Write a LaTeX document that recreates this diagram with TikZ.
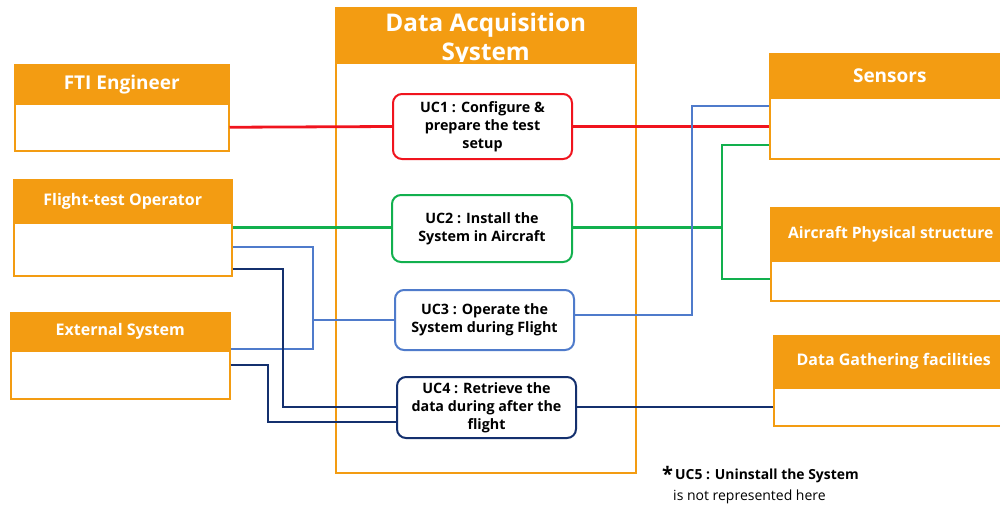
\documentclass[tikz,border=0pt]{standalone}
\usepackage{fontspec}
\setmainfont{Open Sans}
\definecolor{org}{HTML}{F39C12}
\definecolor{ucred}{HTML}{F0141E}
\definecolor{ucgreen}{HTML}{12B04E}
\definecolor{ucblue}{HTML}{4F7BCB}
\definecolor{ucnavy}{HTML}{14306E}
\tikzset{
  hdr/.style={draw=org, fill=org, line width=1.5pt, anchor=north west, inner sep=0pt,
    text=white, font=\bfseries\fontsize{16}{20}\selectfont, align=center},
  bighdr/.style={hdr, font=\bfseries\fontsize{19}{22}\selectfont},
  bodybox/.style={draw=org, fill=white, line width=1.5pt, anchor=north west, inner sep=0pt},
  ucbox/.style={draw=#1, fill=white, line width=2pt, rounded corners=9pt, anchor=north west,
    inner sep=0pt, align=center, text=black, font=\bfseries\fontsize{14.3}{18}\selectfont},
  link/.style={draw=#1, line width=2.5pt}
}
\begin{document}
\begin{tikzpicture}[x=1pt,y=-1pt]
\useasboundingbox (0,0) rectangle (1000,506);

% actors on the left
\node[bighdr, minimum width=214, minimum height=40] (fti) at (14,64) {FTI Engineer};
\node[bodybox, minimum width=214, minimum height=47] (ftib) at (14,103) {};
\node[hdr, minimum width=218, minimum height=43] (fto) at (13,179) {Flight-test Operator};
\node[bodybox, minimum width=218, minimum height=53] (ftob) at (13,222) {};
\node[hdr, minimum width=219, minimum height=38] (ext) at (10,312) {External System};
\node[bodybox, minimum width=219, minimum height=48] (extb) at (10,350) {};

% actors on the right
\node[bighdr, minimum width=240, minimum height=44] (sens) at (769,53) {Sensors};
\node[bodybox, minimum width=240, minimum height=61] (sensb) at (769,97) {};
\node[hdr, minimum width=240, minimum height=53, font=\bfseries\fontsize{15.7}{20}\selectfont]
  (acs) at (770,207) {Aircraft Physical structure};
\node[bodybox, minimum width=240, minimum height=40] (acsb) at (770,260) {};
\node[hdr, minimum width=240, minimum height=52] (dgf) at (773,335) {Data Gathering facilities};
\node[bodybox, minimum width=240, minimum height=38] (dgfb) at (773,387) {};

% system boundary: the body is drawn over the lower edge of the title block
\node[hdr, minimum width=300, minimum height=59, font=\bfseries\fontsize{24.3}{29}\selectfont,
  text depth=0pt] (das) at (335,7) {Data Acquisition\\[0pt]System};
\node[bodybox, minimum width=300, minimum height=410] (dasb) at (335,62) {};

% associations
\draw[link=ucred, line width=2.8pt] (ftib.east) -- (392,126.5) coordinate (r1);
\draw[link=ucred, line width=2.8pt] (571,126.5) coordinate (r2) -- (sensb.west |- r2);

\draw[link=ucgreen] (ftob.east |- 0,227.5) -- (391,227.5) coordinate (g1);
\draw[link=ucgreen] (571,227.5) -- (722,227.5) coordinate (gj);
\draw[link=ucgreen] (gj) |- (sensb.west |- 0,145);
\draw[link=ucgreen] (gj) |- (acsb.west |- 0,279);

\draw[link=ucblue] (ftob.east |- 0,247) -| (313,320) coordinate (bj);
\draw[link=ucblue] (extb.east |- 0,349) -| (bj);
\draw[link=ucblue] (bj) -- (394,320);
\draw[link=ucblue] (573,315) -- (692,315) |- (sensb.west |- 0,106);

\draw[link=ucnavy] (ftob.east |- 0,269) -| (283,407) -- (396,407);
\draw[link=ucnavy] (extb.east |- 0,365) -| (268,422) -- (396,422);
\draw[link=ucnavy] (575,407) -- (dgfb.west |- 0,407);

% use cases
\node[ucbox=ucred, minimum width=179, minimum height=65] (uc1) at (392,93)
  {UC1 : Configure \&\\prepare the test\\setup};
\node[ucbox=ucgreen, minimum width=180, minimum height=67] (uc2) at (391,194)
  {UC2 : Install the\\System in Aircraft};
\node[ucbox=ucblue, minimum width=179, minimum height=60] (uc3) at (394,289)
  {UC3 : Operate the\\System during Flight};
\node[ucbox=ucnavy, minimum width=179, minimum height=61] (uc4) at (396,376)
  {UC4 : Retrieve the\\data during after the\\flight};

% footnote
\node[anchor=base west, inner sep=0pt, font=\bfseries\fontsize{20}{20}\selectfont] (star) at (662,481) {*};
\node[anchor=base west, inner sep=0pt, font=\bfseries\fontsize{13.9}{15}\selectfont] (uc5) at (675,479)
  {UC5 : Uninstall the System};
\node[anchor=base west, inner sep=0pt, font=\fontsize{14}{15}\selectfont] (note) at (673,500)
  {is not represented here};
\end{tikzpicture}
\end{document}
